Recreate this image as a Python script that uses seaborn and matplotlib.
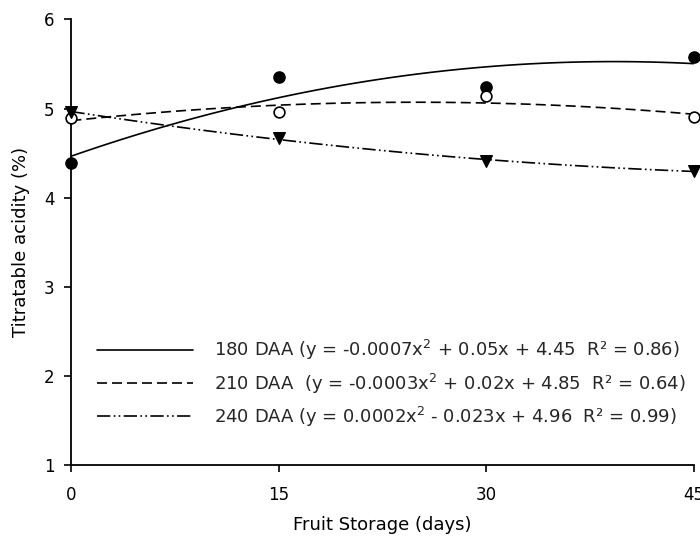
import matplotlib
matplotlib.use("Agg")
import matplotlib.pyplot as plt
import seaborn as sns
import numpy as np
import pandas as pd

sns.set_theme(style="ticks")
plt.rcParams['font.family'] = ['DejaVu Sans']

days = [0, 15, 30, 45]
acid_180 = [4.39, 5.35, 5.24, 5.58]
acid_210 = [4.89, 4.96, 5.14, 4.91]
acid_240 = [4.96, 4.67, 4.41, 4.30]

labels = [
    r"180 DAA (y = -0.0007x$^{2}$ + 0.05x + 4.45  R² = 0.86)",
    r"210 DAA  (y = -0.0003x$^{2}$ + 0.02x + 4.85  R² = 0.64)",
    r"240 DAA (y = 0.0002x$^{2}$ - 0.023x + 4.96  R² = 0.99)",
]
xticks = [0, 15, 30, 45]
yticks = [1, 2, 3, 4, 5, 6]

fig = plt.figure(figsize=(7, 5.4), dpi=100)
ax = fig.add_axes([0.102, 0.139, 0.889, 0.825])

series = [
    (acid_180, "o", dict(s=65, color="black", edgecolor="black"), dict(ls="-")),
    (acid_210, "o", dict(s=60, facecolor="white", edgecolor="black", linewidths=1.2), dict(ls=(0, (6, 3)))),
    (acid_240, "v", dict(s=70, color="black", edgecolor="black"), dict(ls=(0, (8, 2, 1, 2, 1, 2)))),
]
for (vals, mk, skw, lkw), lab in zip(series, labels):
    df = pd.DataFrame({"x": days, "y": vals})
    sns.regplot(data=df, x="x", y="y", order=2, ci=None, ax=ax, marker=mk,
                scatter_kws=dict(zorder=3, clip_on=False, alpha=1, **skw),
                line_kws=dict(color="black", lw=1.2, label=lab, **lkw))

ax.set_xlim(0, 45)
ax.set_ylim(1, 6)
ax.set_xticks(xticks)
ax.set_yticks(yticks)
for s in ["top", "right"]:
    ax.spines[s].set_visible(False)
for s in ["left", "bottom"]:
    ax.spines[s].set_linewidth(1.3)
    ax.spines[s].set_color("black")
ax.tick_params(axis="both", direction="out", length=5, width=1.2, labelsize=12,
               colors="black")
ax.tick_params(axis="x", pad=10)
ax.tick_params(axis="y", pad=7)
ax.set_xlabel("Fruit Storage (days)", fontsize=13, labelpad=9, color="black")
ax.set_ylabel("Titratable acidity (%)", fontsize=13, labelpad=10, color="black")

leg = ax.legend(loc="lower left", bbox_to_anchor=(0.015, 0.045), frameon=False,
                fontsize=13, handlelength=5.3, handletextpad=1.2, labelspacing=0.5)

fig.savefig("out.png", dpi=100)
